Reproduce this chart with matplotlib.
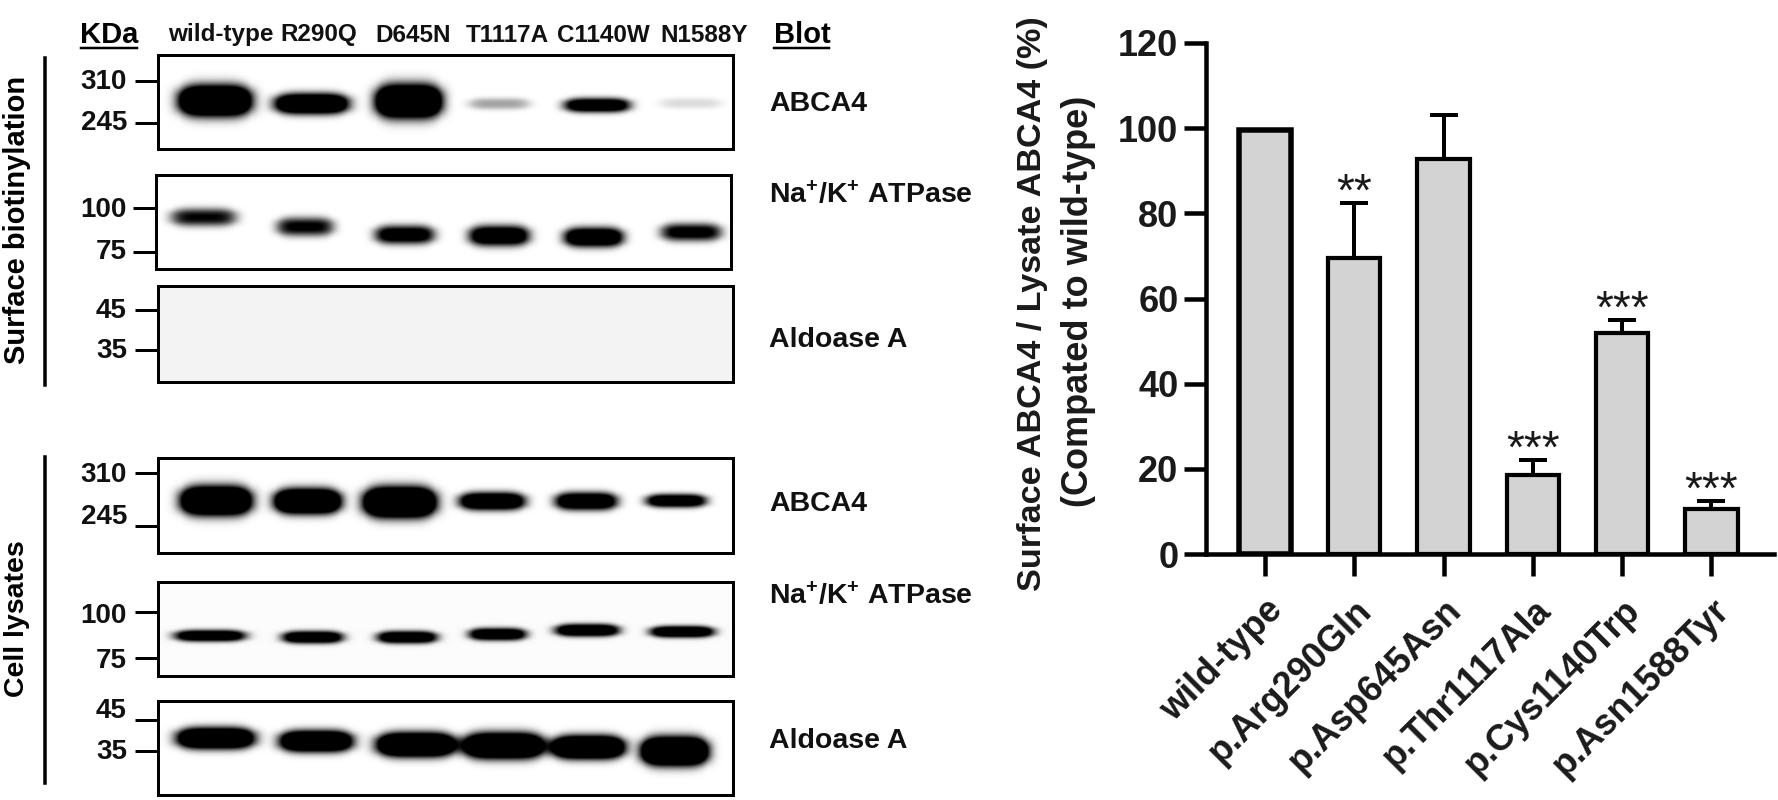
import numpy as np
import matplotlib
matplotlib.use("Agg")
import matplotlib.pyplot as plt

plt.rcParams['font.family'] = ['Liberation Sans', 'DejaVu Sans']
plt.rcParams['mathtext.default'] = 'regular'

W, H = 1778, 800
PX = 72 / 100  # points per pixel at 100 dpi

# ---- bar chart values
variants = ['wild-type', 'p.Arg290Gln', 'p.Asp645Asn', 'p.Thr1117Ala', 'p.Cys1140Trp', 'p.Asn1588Tyr']
ratio = [99.6, 69.6, 92.8, 18.6, 52, 10.6]
ratio_err = [0, 12.9, 10.2, 3.4, 3, 1.9]
signif = ['', '**', '', '***', '***', '***']
yticks_bar = [0, 20, 40, 60, 80, 100, 120]

# ---- blot labels
lanes = ['wild-type', 'R290Q', 'D645N', 'T1117A', 'C1140W', 'N1588Y']
lane_centres = [221, 319, 413, 507, 603, 704]

# ---- blot bands: left, right, top, bottom, darkness
surface_abca4 = [(175, 255, 83, 118, 2.2), (271, 352, 92, 115, 1.9), (372, 445, 82, 120, 2.2),
                 (466, 532, 97, 110, 0.36), (561, 633, 97, 113, 1.5), (657, 724, 97, 109, 0.14)]
surface_atpase = [(168, 239, 207, 227, 1.0), (274, 336, 216, 237, 1.05), (372, 437, 224, 245, 1.3),
                  (466, 532, 224, 247, 1.5), (561, 626, 226, 248, 1.6), (658, 724, 222, 242, 1.15)]
surface_aldoase = []
lysate_abca4 = [(177, 255, 484, 517, 2.2), (271, 344, 487, 515, 2.2), (360, 439, 485, 519, 2.4),
                (456, 528, 491, 511, 1.7), (552, 620, 491, 511, 1.6), (643, 709, 493, 508, 1.5)]
lysate_atpase = [(171, 249, 629, 642, 1.5), (279, 346, 630, 644, 1.5), (374, 440, 630, 644, 1.5),
                 (466, 529, 627, 641, 1.5), (552, 622, 623, 637, 1.6), (647, 717, 625, 638, 1.6)]
lysate_aldoase = [(173, 258, 726, 750, 2.0), (276, 356, 729, 753, 2.0), (373, 459, 731, 758, 2.2),
                  (459, 548, 731, 760, 2.2), (548, 628, 734, 760, 2.2), (638, 711, 735, 767, 2.4)]

panels = [
    (158, 55, 733, 149, surface_abca4, 0.0, [81, 123]),
    (156, 175, 731, 269, surface_atpase, 0.0, [208, 252]),
    (158, 286, 733, 382, surface_aldoase, 0.05, [310, 350]),
    (158, 458, 733, 553, lysate_abca4, 0.0, [473, 526]),
    (158, 582, 733, 676, lysate_atpase, 0.015, [612, 658]),
    (158, 701, 733, 795, lysate_aldoase, 0.0, [720, 751]),
]
size_labels = [(127, 82, '310'), (127, 123, '245'), (127, 210, '100'), (127, 252, '75'),
               (127, 311, '45'), (127, 351, '35'), (127, 475, '310'), (127, 517, '245'),
               (127, 616, '100'), (127, 661, '75'), (127, 711, '45'), (127, 752, '35')]
blot_names = [(104, 'ABCA4'), (195, 'Na$^{+}$/K$^{+}$ ATPase'), (340, 'Aldoase A'),
              (504, 'ABCA4'), (596, 'Na$^{+}$/K$^{+}$ ATPase'), (741, 'Aldoase A')]


def px_axes(left, top, right, bottom, **kw):
    return fig.add_axes([left / W, 1 - bottom / H, (right - left) / W, (bottom - top) / H], **kw)


fig = plt.figure(figsize=(W / 100, H / 100), dpi=100, facecolor='white')

# overlay in pixel coordinates for the panel annotation
ov = px_axes(0, 0, W, H)
ov.set_xlim(0, W)
ov.set_ylim(H, 0)
ov.axis('off')

for left, top, right, bottom, bands, base, ticks in panels:
    ax = px_axes(left, top, right, bottom)
    xx, yy = np.meshgrid(np.arange(left, right, 0.5), np.arange(top, bottom, 0.5))
    img = np.full(xx.shape, base, dtype=float)
    for l, r, t, b, dark in bands:
        cx, cy = (l + r) / 2, (t + b) / 2
        hw, hh = 0.92 * (r - l) / 2, 0.88 * (b - t) / 2
        # bands taper slightly toward the lane edges, as gel bands do
        taper = 1 - 0.2 * np.clip(np.abs((xx - cx) / hw), 0, 1) ** 4
        img += dark * np.exp(-np.abs((xx - cx) / hw) ** 5) * np.exp(-np.abs((yy - cy) / (hh * taper)) ** 2.6)
    ax.imshow(np.clip(img, 0, 1), cmap='gray_r', vmin=0, vmax=1, aspect='auto',
              extent=(left, right, bottom, top), interpolation='bilinear')
    ax.set_xlim(left, right)
    ax.set_ylim(bottom, top)
    ax.set_xticks([])
    ax.set_yticks(ticks)
    ax.set_yticklabels([])
    ax.tick_params(axis='y', length=23 * PX, width=3 * PX, color='black')
    for s in ax.spines.values():
        s.set_linewidth(3 * PX)

for x, y, s in size_labels:
    ov.text(x, y, s, ha='right', va='center', fontsize=20, fontweight='bold', color='#111111')
for y, s in blot_names:
    ov.text(769, y, s, ha='left', va='center', fontsize=20.5, fontweight='bold', color='#111111')
for x, s in zip(lane_centres, lanes):
    ov.text(x, 35, s, ha='center', va='center', fontsize=17.5, fontweight='bold', color='#111111')
ov.text(109, 35, 'KDa', ha='center', va='center', fontsize=21, fontweight='bold')
ov.text(802, 35, 'Blot', ha='center', va='center', fontsize=21, fontweight='bold')
ov.plot([81, 137], [48, 48], color='black', lw=2.5 * PX)
ov.plot([774, 829], [48, 48], color='black', lw=2.5 * PX)
ov.plot([45, 45], [58, 385], color='black', lw=3.5 * PX)
ov.plot([45, 45], [457, 783], color='black', lw=3.5 * PX)
ov.text(17, 220, 'Surface biotinylation', rotation=90, ha='center', va='center',
        fontsize=21, fontweight='bold')
ov.text(17, 619, 'Cell lysates', rotation=90, ha='center', va='center',
        fontsize=20.5, fontweight='bold')
ov.text(1033, 304, 'Surface ABCA4 / Lysate ABCA4 (%)', rotation=90, ha='center', va='center',
        fontsize=24.6, fontweight='bold', color='#1a1a1a')
ov.text(1079, 301, '(Compated to wild-type)', rotation=90, ha='center', va='center',
        fontsize=26, fontweight='bold', color='#1a1a1a')

# bar chart
bx = px_axes(1206, 43, 1774, 554)
bx.patch.set_alpha(0)
pos = np.arange(len(variants))
bx.errorbar(pos, ratio, yerr=[np.zeros(len(ratio)), ratio_err], fmt='none', ecolor='black',
            elinewidth=4 * PX, capsize=14 * PX, capthick=4 * PX, zorder=2)
bx.bar(pos, ratio, width=0.585, color='#d3d3d3', edgecolor='black',
       linewidth=[5.5 * PX if e == 0 else 4.2 * PX for e in ratio_err], zorder=3)
bx.set_xlim(-0.66, 5.70)
bx.set_ylim(0, 120)
bx.set_yticks(yticks_bar)
bx.set_xticks(pos)
bx.set_xticklabels(variants, rotation=45, ha='right', va='top', rotation_mode='anchor',
                   fontsize=26, fontweight='bold', color='#1a1a1a')
bx.tick_params(axis='both', length=22 * PX, width=4.5 * PX, color='black')
bx.tick_params(axis='x', pad=12)
bx.tick_params(axis='y', pad=4)
for t in bx.get_yticklabels():
    t.set_fontsize(26)
    t.set_fontweight('bold')
    t.set_color('#1a1a1a')
for side in ('top', 'right'):
    bx.spines[side].set_visible(False)
for side in ('left', 'bottom'):
    bx.spines[side].set_linewidth(4.5 * PX)

for p, r, e, s in zip(pos, ratio, ratio_err, signif):
    if s:
        bx.annotate(s, (p, r + e), xytext=(0, -9), textcoords='offset points', ha='center',
                    va='bottom', fontsize=33, color='#1a1a1a', annotation_clip=False)

fig.savefig('out.png', dpi=100, facecolor='white')
